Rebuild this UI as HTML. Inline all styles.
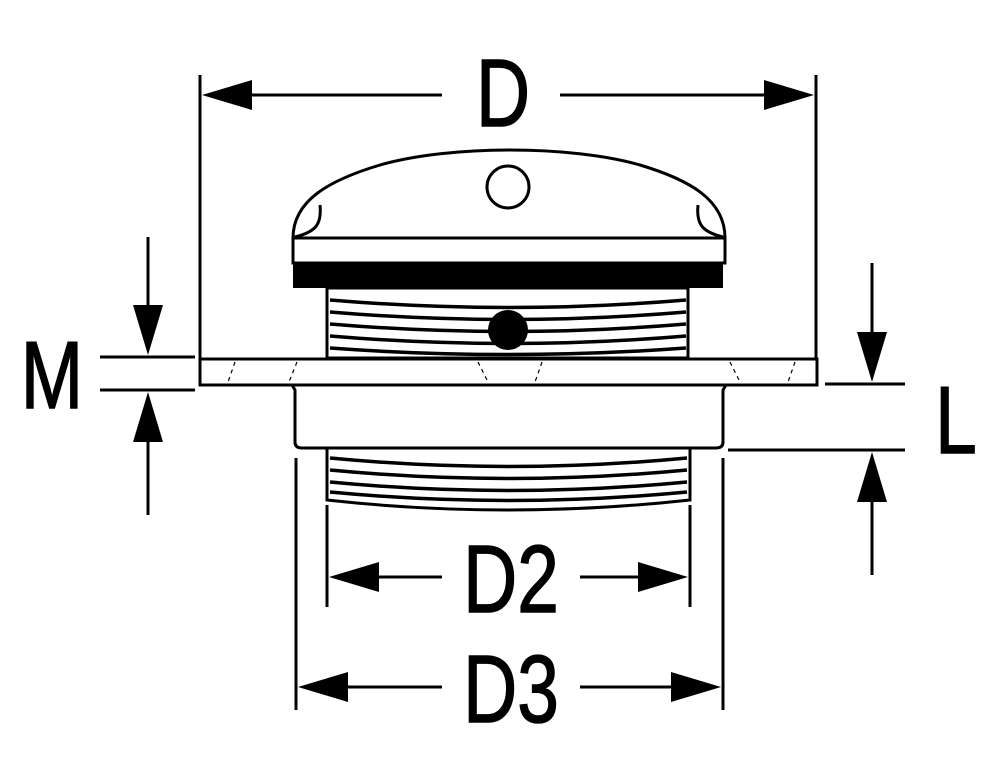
<!DOCTYPE html>
<html><head><style>
html,body{margin:0;padding:0;background:#fff;width:1000px;height:770px;overflow:hidden}
svg{display:block}
text{font-family:"Liberation Sans",sans-serif;font-size:96px;fill:#000;stroke:#000;stroke-width:1.5}
</style></head><body>
<svg width="1000" height="770" viewBox="0 0 1000 770" xmlns="http://www.w3.org/2000/svg">
<g stroke="#000" stroke-width="3" fill="none">
<path d="M293 238 C293 200 330 180 380 165 C450 145 570 145 640 165 C690 180 725 200 725 238 Z" fill="#fff"/>
<path d="M320 205 C322 225 315 232 295 237"/>
<path d="M698 205 C696 225 703 232 723 237"/>
<circle cx="508" cy="187" r="21"/>
<rect x="293" y="238" width="432" height="25" fill="#fff"/>
<rect x="327" y="288" width="361" height="70" fill="#fff"/>
<g stroke-width="3.5">
<path d="M330 300 Q508 315 686 300 M330 312 Q508 327 686 312 M330 324 Q508 339 686 324 M330 336 Q508 351 686 336 M330 348 Q508 361 686 348"/>
</g>
<rect x="200" y="359" width="617" height="26" fill="#fff"/>
<path d="M292 385 L726 385 L723 390 L723 442 Q723 448 716 448 L302 448 Q295 448 295 442 L295 390 Z" fill="#fff"/>
<path d="M327 448 L327 500 Q508 520 690 500 L690 448"/>
<g stroke-width="3.5">
<path d="M330 458 Q508 475 687 458 M330 470 Q508 487 687 470 M330 482 Q508 499 687 482 M330 492 Q508 509 687 492"/>
</g>
<path d="M200 75 L200 358 M816 75 L816 358"/>
<path d="M100 357 L195 357 M100 390 L195 390 M148 237 L148 310 M148 437 L148 515"/>
<path d="M825 384 L905 384 M728 450 L905 450 M872 263 L872 335 M872 500 L872 575"/>
<path d="M327 505 L327 607 M690 505 L690 607 M296 458 L296 710 M723 458 L723 710"/>
<path d="M245 95 L442 95 M560 95 L770 95"/>
<path d="M375 577 L442 577 M580 577 L645 577"/>
<path d="M345 687 L442 687 M580 687 L675 687"/>
</g>
<g stroke="#000" stroke-width="1.2" stroke-dasharray="4 4">
<path d="M235 362 L228 382 M297 362 L289 382 M478 362 L488 382 M542 362 L535 382 M730 362 L740 382 M795 362 L788 382"/>
</g>
<g fill="#000">
<rect x="293" y="263" width="430" height="25"/>
<circle cx="508" cy="330" r="20"/>
<path d="M202 95 L252 80 L252 110 Z"/>
<path d="M814 95 L764 80 L764 110 Z"/>
<path d="M148 355 L133 305 L163 305 Z"/>
<path d="M148 392 L133 442 L163 442 Z"/>
<path d="M872 382 L857 332 L887 332 Z"/>
<path d="M872 452 L857 502 L887 502 Z"/>
<path d="M329 577 L379 562 L379 592 Z"/>
<path d="M688 577 L638 562 L638 592 Z"/>
<path d="M298 687 L348 672 L348 702 Z"/>
<path d="M721 687 L671 672 L671 702 Z"/>
</g>
<text transform="translate(503 126) scale(0.78 1)" text-anchor="middle">D</text>
<text transform="translate(52 408) scale(0.78 1)" text-anchor="middle">M</text>
<text transform="translate(956 453) scale(0.78 1)" text-anchor="middle">L</text>
<text transform="translate(511 612) scale(0.78 1)" text-anchor="middle">D2</text>
<text transform="translate(511 722) scale(0.78 1)" text-anchor="middle">D3</text>
</svg>
</body></html>
